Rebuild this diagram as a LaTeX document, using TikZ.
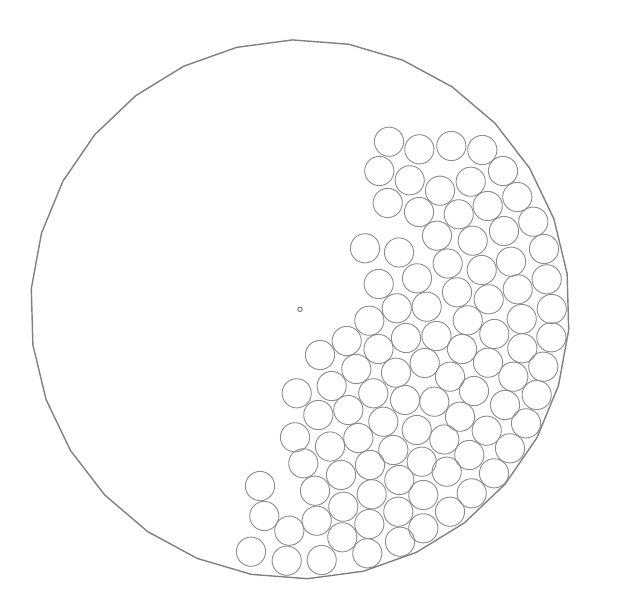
\documentclass[tikz,border=0pt]{standalone}
\begin{document}
\begin{tikzpicture}[x=1pt,y=-1pt,
  ball/.style={draw=black!45,line width=0.9pt},
  poly/.style={draw=black!50,line width=1.4pt,line join=round},
  dot/.style={draw=black!55,line width=0.9pt}]
\useasboundingbox (0,0) rectangle (634,599);
\draw[poly,shift={(300,309.3)}] plot[samples=31,domain=0:30,variable=\k]
  ({269.5*cos(7.6+12*\k)},{-269.5*sin(7.6+12*\k)}) -- cycle;
\draw[dot] (300,309.3) circle[radius=2.2];
\foreach \x/\y in {
389/141.7, 419.3/149.3, 451.3/146, 482.3/150, 379.3/171, 409.7/180.3, 440/190.7,
470.7/181.7, 503/171, 387.7/203, 419/212, 458.7/214.3, 487.7/206, 517.3/197,
437/235.7, 472.7/240.7, 504/231, 533.3/221.7, 365/248.3, 399/252.5, 544/249,
447.7/263.5, 481.7/270, 511/261.7, 378.7/284, 417/278.3, 457/292.3, 488.7/299.3,
517.7/289.3, 546.7/279.3, 396.7/308.3, 426.7/306.7, 467.7/320.3, 494.3/334,
521.7/319, 551.7/309, 369.3/320.7, 406/338, 436.5/336, 346.7/341, 378.5/349,
462/349, 522.3/348.3, 551.3/337.3, 424.7/363, 488/362.7, 356.3/369, 396/372.7,
450/376.7, 543.3/366.7, 513.3/376.7, 320/355, 296.7/393.3, 331.7/386, 373.3/393.3,
405/400, 434.3/401.7, 474/391, 318.3/415, 348.3/410, 383.3/421.7, 416.7/430,
444.3/439.5, 460/416.7, 295/437.3, 330/446.5, 358.3/438, 505/405, 536.7/395,
486.7/430.7, 526/423.3, 469.3/455, 510/448.3, 393.3/450, 303.3/463.3, 341/475,
370/465, 399.3/480, 421.7/461.7, 446.7/471.7, 494/473.3, 260/486, 315/490.7,
343.3/506.7, 371.7/494.3, 398.3/511.7, 423.3/495, 471.7/493.3, 264.3/516,
316.7/520.7, 289.3/530.7, 342.3/537.3, 369.3/524, 400/541.7, 423.3/528.3,
450/511.7, 251/551.7, 286.7/560.7, 321.7/560, 367.3/553.3}
  \draw[ball] (\x,\y) circle[radius=14.6];
\end{tikzpicture}
\end{document}
